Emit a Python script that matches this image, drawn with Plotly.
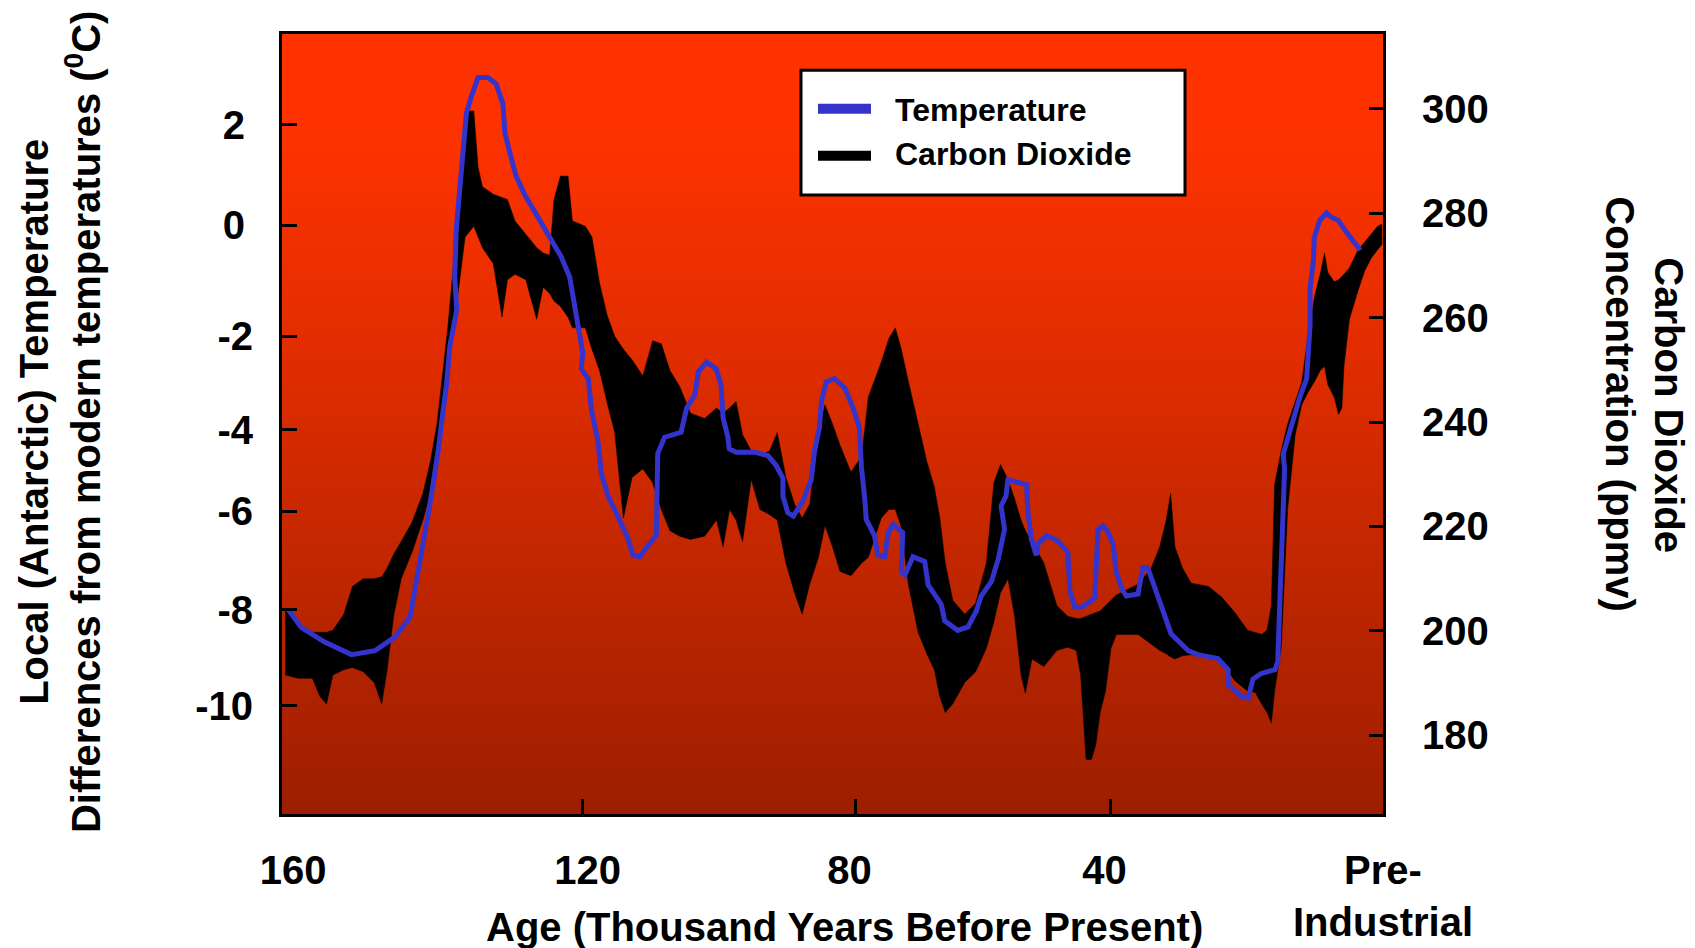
import base64
import struct
import zlib

import plotly.graph_objects as go

# ---------------- data ----------------
age_temp = [159.1, 157.2, 153.8, 149.9, 146.5, 143.6, 141.4, 140.7, 139.8, 138.8,
            138.1, 137.3, 136.6, 136.1, 135.6, 135.2, 134.6, 134.9, 134.7, 134.2,
            133.7, 133.2, 132.5, 131.5, 130.1, 128.9, 127.9, 127.6, 126.9, 126.0,
            124.7, 123.3, 122.1, 120.9, 119.4, 118.2, 117.2, 117.0, 116.3, 116.5,
            115.5, 115.0, 114.1, 113.6, 112.6, 111.2, 109.7, 109.0, 108.0, 106.6,
            105.6, 105.5, 105.4, 104.4, 102.0, 101.2, 100.0, 99.5, 98.3, 96.9,
            96.2, 95.9, 95.2, 95.0, 94.0, 91.3, 89.4, 88.2, 87.2, 87.2,
            86.5, 85.7, 84.3, 83.1, 82.6, 81.9, 81.6, 80.9, 79.7, 78.2,
            77.0, 76.1, 75.8, 75.3, 75.1, 73.9, 73.4, 72.4, 71.9, 71.2,
            69.8, 70.0, 69.5, 68.3, 66.6, 66.1, 64.2, 63.7, 61.8, 60.3,
            59.1, 58.4, 56.9, 55.9, 55.0, 55.5, 54.8, 54.5, 53.5, 51.8,
            51.6, 51.1, 50.4, 50.1, 48.9, 47.2, 45.8, 45.5, 44.8, 43.8,
            41.9, 41.4, 40.7, 40.0, 39.2, 38.8, 38.0, 37.3, 35.6, 34.9,
            34.2, 33.2, 32.0, 30.8, 28.3, 26.9, 24.0, 22.5, 22.5, 20.6,
            19.6, 18.9, 17.7, 15.7, 15.3, 15.0, 14.8, 14.5, 14.3, 14.5,
            13.3, 12.1, 11.1, 10.8, 10.6, 10.6, 10.1, 10.0, 9.2, 8.2,
            7.5, 6.5, 5.3, 3.3]
temperature = [-8.01, -8.38, -8.68, -8.94, -8.86, -8.58, -8.17, -7.63, -6.82, -6.08,
               -5.47, -4.73, -3.91, -3.37, -2.56, -2.22, -1.82, -1.14, -0.20, 0.62,
               1.43, 2.24, 2.58, 2.98, 2.98, 2.85, 2.44, 1.83, 1.43, 0.95,
               0.55, 0.21, -0.06, -0.40, -0.73, -1.14, -1.95, -2.22, -2.70, -3.04,
               -3.24, -3.91, -4.52, -5.20, -5.67, -6.08, -6.55, -6.89, -6.92, -6.65,
               -6.48, -5.60, -4.79, -4.45, -4.35, -3.85, -3.57, -3.10, -2.90, -3.04,
               -3.37, -4.05, -4.45, -4.69, -4.76, -4.76, -4.83, -5.03, -5.30, -5.67,
               -6.01, -6.08, -5.77, -5.33, -4.73, -4.25, -3.71, -3.31, -3.24, -3.44,
               -3.85, -4.25, -5.06, -5.74, -6.15, -6.48, -6.89, -6.92, -6.42, -6.25,
               -6.42, -7.23, -7.30, -6.92, -7.02, -7.50, -7.90, -8.24, -8.44, -8.37,
               -8.04, -7.73, -7.43, -6.96, -6.35, -5.87, -5.67, -5.33, -5.36, -5.43,
               -6.01, -6.55, -6.89, -6.65, -6.48, -6.60, -6.83, -7.62, -7.96, -7.96,
               -7.77, -6.36, -6.28, -6.40, -6.67, -7.22, -7.57, -7.73, -7.69, -7.14,
               -7.14, -7.54, -8.00, -8.51, -8.86, -8.94, -9.02, -9.25, -9.56, -9.80,
               -9.84, -9.45, -9.33, -9.25, -9.09, -8.00, -7.22, -6.36, -5.11, -4.80,
               -4.17, -3.63, -3.24, -2.75, -2.13, -1.39, -0.77, -0.34, 0.03, 0.18,
               0.09, 0.03, -0.22, -0.59]

age_co2 = [159.53, 157.64, 155.59, 154.49, 153.54, 152.60, 151.02, 149.76, 148.19, 146.61,
           145.51, 144.72, 143.78, 142.68, 141.10, 139.53, 138.43, 137.48, 136.69, 135.91,
           135.28, 134.65, 134.02, 133.39, 132.13, 131.50, 130.87, 129.29, 128.03, 127.24,
           126.14, 124.57, 122.99, 122.05, 121.10, 120.47, 119.53, 118.43, 117.80, 115.91,
           114.96, 113.86, 112.76, 111.65, 110.39, 109.13, 107.56, 106.14, 104.88, 103.62,
           102.21, 100.63, 98.58, 96.85, 95.91, 94.96, 94.02, 93.07, 91.81, 90.55,
           89.13, 88.03, 86.77, 85.51, 84.41, 83.31, 82.05, 81.10, 80.00, 78.90,
           77.32, 75.75, 74.80, 72.91, 71.81, 70.87, 70.08, 68.98, 67.56, 66.30,
           65.20, 64.41, 63.62, 62.52, 60.79, 59.21, 57.64, 56.54, 55.59, 54.49,
           53.54, 52.60, 51.97, 51.02, 49.29, 47.40, 45.83, 44.57, 43.94, 43.15,
           42.36, 41.73, 41.10, 40.32, 39.53, 38.74, 37.17, 35.59, 33.70, 32.44,
           31.50, 30.87, 30.24, 29.13, 27.87, 25.35, 23.46, 21.58, 19.69, 18.58,
           17.64, 16.85, 16.22, 15.75, 14.80, 13.86, 12.76, 11.81, 10.87, 9.92,
           9.13, 8.50, 8.03, 7.09, 6.46, 5.98, 5.67, 4.88, 3.62, 2.68,
           1.73, 0.79, 0.16]
co2_high = [204.44, 201.17, 199.74, 199.74, 199.74, 200.15, 203.21, 208.53, 209.97, 209.97,
            210.37, 212.01, 214.67, 217.12, 220.81, 226.33, 232.47, 239.63, 248.83, 258.04,
            267.24, 277.47, 286.68, 299.57, 299.57, 288.72, 285.04, 283.61, 283.00, 282.59,
            278.50, 276.04, 273.38, 272.36, 271.95, 282.59, 287.09, 287.09, 278.50, 277.47,
            275.43, 266.63, 260.49, 256.40, 253.95, 251.90, 248.83, 255.58, 254.97, 249.86,
            246.79, 241.67, 240.65, 242.70, 241.67, 242.70, 243.92, 237.58, 234.51, 233.49,
            234.51, 237.99, 229.40, 224.28, 221.63, 224.28, 237.99, 243.31, 239.63, 235.54,
            230.42, 233.49, 244.74, 251.49, 255.99, 258.04, 254.36, 247.81, 239.63, 232.47,
            227.56, 221.63, 213.03, 205.87, 203.21, 205.26, 213.03, 228.38, 231.85, 228.99,
            225.31, 221.22, 219.17, 217.12, 213.03, 204.85, 202.81, 202.40, 202.40, 202.81,
            203.21, 203.62, 203.83, 204.85, 205.87, 206.90, 207.92, 208.94, 212.01, 216.10,
            221.22, 226.33, 216.10, 212.01, 209.15, 208.53, 206.49, 203.62, 200.15, 199.74,
            199.33, 200.15, 204.85, 227.97, 234.51, 239.63, 243.92, 247.61, 256.81, 264.18,
            268.27, 272.36, 268.68, 266.84, 267.24, 267.86, 268.27, 269.49, 272.97, 274.40,
            276.04, 277.47, 277.88]
co2_low = [191.55, 190.94, 190.94, 187.46, 186.03, 191.55, 192.58, 192.99, 192.17, 190.13,
           186.03, 192.58, 202.81, 209.97, 215.08, 221.22, 226.33, 233.49, 240.65, 248.83,
           257.02, 262.13, 268.27, 275.43, 277.47, 275.43, 273.38, 270.31, 260.08, 267.24,
           268.27, 267.24, 259.68, 265.81, 264.59, 263.15, 262.13, 260.08, 258.04, 258.04,
           253.95, 249.86, 243.72, 237.99, 221.63, 229.40, 231.04, 228.38, 223.26, 219.17,
           218.15, 217.53, 218.15, 221.22, 216.10, 223.26, 221.22, 217.12, 228.99, 223.26,
           222.24, 221.22, 213.03, 207.31, 203.21, 208.94, 214.06, 220.19, 216.10, 211.40,
           210.58, 213.03, 214.06, 221.63, 223.26, 223.26, 220.19, 208.94, 199.74, 195.65,
           192.58, 187.46, 184.39, 186.03, 190.13, 192.17, 196.67, 201.78, 207.31, 209.97,
           202.81, 191.55, 188.08, 194.62, 193.19, 196.26, 196.87, 196.26, 191.55, 175.39,
           175.39, 178.26, 184.39, 188.49, 196.67, 199.33, 199.33, 199.33, 197.49, 196.26,
           195.65, 195.03, 194.62, 195.24, 195.44, 194.83, 194.21, 190.53, 188.49, 188.28,
           186.03, 184.39, 182.35, 188.49, 196.67, 223.26, 237.58, 243.31, 245.76, 247.81,
           249.86, 250.67, 247.20, 244.74, 241.47, 242.70, 250.67, 259.68, 265.20, 268.88,
           271.34, 272.97, 274.00]

# axis tick labels (positions follow the reference's hand-placed ticks)
NB = "\u00a0"
x_tick_vals = [160, 116.4, 76.73, 39.67, 0]
x_tick_text = [NB * 2 + "160", NB + "120", "80" + NB, "40" + NB, "Pre-<br>Industrial"]
temp_tick_vals = [2, -0.07, -2.37, -4.30, -5.98, -8.01, -10]
temp_tick_text = ["2\u2009", "0\u2009", "-2", "-4", "-6", "-8", "-10"]
co2_tick_vals = [180, 200, 220, 240, 260, 280, 300]

series_names = ["Temperature", "Carbon Dioxide"]

# ---------------- style ----------------
W, H = 1695, 948
ML, MR, MT, MB = 274, 320, 26, 128
PW, PH = W - ML - MR, H - MT - MB
FONT = "Liberation Sans, Arial, Helvetica, sans-serif"
BLUE = "#3434CC"


def px_x(xa):
    return (xa - ML) / PW


def px_y(ya):
    return (H - MB - ya) / PH


def gradient_png(stops, h=400):
    rows = []
    for i in range(h):
        t = i / (h - 1)
        for k in range(len(stops) - 1):
            t0, c0 = stops[k]
            t1, c1 = stops[k + 1]
            if t0 <= t <= t1:
                f = (t - t0) / (t1 - t0) if t1 > t0 else 0
                c = [int(round(c0[j] + (c1[j] - c0[j]) * f)) for j in range(3)]
                break
        rows.append(b"\x00" + bytes(c))
    raw = b"".join(rows)

    def chunk(tag, data):
        return (struct.pack(">I", len(data)) + tag + data +
                struct.pack(">I", zlib.crc32(tag + data) & 0xFFFFFFFF))

    png = (b"\x89PNG\r\n\x1a\n" +
           chunk(b"IHDR", struct.pack(">IIBBBBB", 1, h, 8, 2, 0, 0, 0)) +
           chunk(b"IDAT", zlib.compress(raw)) + chunk(b"IEND", b""))
    return "data:image/png;base64," + base64.b64encode(png).decode()


bg_stops = [(0.0, (255, 51, 0)), (0.15, (252, 50, 0)), (0.40, (226, 45, 0)),
            (0.70, (191, 38, 0)), (1.0, (157, 30, 0))]

fig = go.Figure()

# CO2 band (base axis, right side)
fig.add_trace(go.Scatter(
    x=age_co2 + age_co2[::-1], y=co2_high + co2_low[::-1],
    mode="lines", fill="toself", fillcolor="black",
    line=dict(color="black", width=0.5), name=series_names[1],
    showlegend=False, hoverinfo="skip", xaxis="x", yaxis="y"))

# Temperature line (overlay axis, left side)
fig.add_trace(go.Scatter(
    x=age_temp, y=temperature, mode="lines", name=series_names[0],
    line=dict(color=BLUE, width=5), showlegend=False,
    xaxis="x", yaxis="y2"))

tickfont = dict(family=FONT, size=40, color="black", weight="bold")
titlefont = dict(family=FONT, size=40, color="black", weight="bold")
legfont = dict(family=FONT, size=32, color="black", weight="bold")

# legend (box, symbols, labels) drawn in paper coordinates
legend_shapes = [
    dict(type="rect", xref="paper", yref="paper",
         x0=px_x(793), x1=px_x(1177), y0=px_y(190), y1=px_y(63),
         fillcolor="white", line=dict(color="black", width=3), layer="above"),
    dict(type="line", xref="paper", yref="paper",
         x0=px_x(810), x1=px_x(863), y0=px_y(102), y1=px_y(102),
         line=dict(color=BLUE, width=10), layer="above"),
    dict(type="line", xref="paper", yref="paper",
         x0=px_x(810), x1=px_x(863), y0=px_y(150), y1=px_y(150),
         line=dict(color="black", width=10), layer="above"),
]
legend_labels = [
    dict(text=series_names[0], xref="paper", yref="paper", x=px_x(885), y=px_y(103),
         xanchor="left", yanchor="middle", showarrow=False, font=legfont),
    dict(text=series_names[1], xref="paper", yref="paper", x=px_x(885), y=px_y(148),
         xanchor="left", yanchor="middle", showarrow=False, font=legfont),
]

axis_titles = [
    dict(text="Local (Antarctic) Temperature<br>Differences from modern temperatures (<sup>0</sup>C)",
         xref="paper", yref="paper", x=px_x(52), y=px_y(421),
         xanchor="center", yanchor="middle", textangle=-90,
         showarrow=False, font=titlefont),
    dict(text="Carbon Dioxide",
         xref="paper", yref="paper", x=px_x(1661), y=px_y(404),
         xanchor="center", yanchor="middle", textangle=90,
         showarrow=False, font=titlefont),
    dict(text="Concentration (ppmv)",
         xref="paper", yref="paper", x=px_x(1612), y=px_y(403),
         xanchor="center", yanchor="middle", textangle=90,
         showarrow=False, font=titlefont),
    dict(text="Age (Thousand Years Before Present)",
         xref="paper", yref="paper", x=px_x(836), y=px_y(935),
         xanchor="center", yanchor="middle",
         showarrow=False, font=titlefont),
]

fig.update_layout(
    width=W, height=H, autosize=False,
    margin=dict(l=ML, r=MR, t=MT, b=MB, pad=0),
    paper_bgcolor="white", plot_bgcolor="rgba(0,0,0,0)",
    showlegend=False,
    xaxis=dict(range=[160, 0], tickmode="array", tickvals=x_tick_vals,
               ticktext=x_tick_text, ticks="inside", ticklen=15, tickwidth=3,
               tickcolor="black", showline=True, linecolor="black", linewidth=3,
               mirror=True, showgrid=False, zeroline=False, tickfont=tickfont,
               ticklabelstandoff=19),
    yaxis=dict(range=[164.95, 314.29], side="right", tickmode="array",
               tickvals=co2_tick_vals, ticks="inside", ticklen=14, tickwidth=3,
               tickcolor="black", showline=True, linecolor="black", linewidth=3,
               mirror=True, showgrid=False, zeroline=False, tickfont=tickfont,
               ticklabelstandoff=28),
    yaxis2=dict(range=[-12.232, 3.877], side="left", overlaying="y",
                tickmode="array", tickvals=temp_tick_vals, ticktext=temp_tick_text,
                ticks="inside", ticklen=15, tickwidth=3, tickcolor="black",
                showline=False, showgrid=False, zeroline=False, tickfont=tickfont,
                ticklabelstandoff=28),
    images=[dict(source=gradient_png(bg_stops), xref="paper", yref="paper",
                 x=0, y=1, sizex=1, sizey=1, sizing="stretch",
                 xanchor="left", yanchor="top", layer="below")],
    shapes=legend_shapes,
    annotations=axis_titles + legend_labels,
)

fig.write_html("out.html")
